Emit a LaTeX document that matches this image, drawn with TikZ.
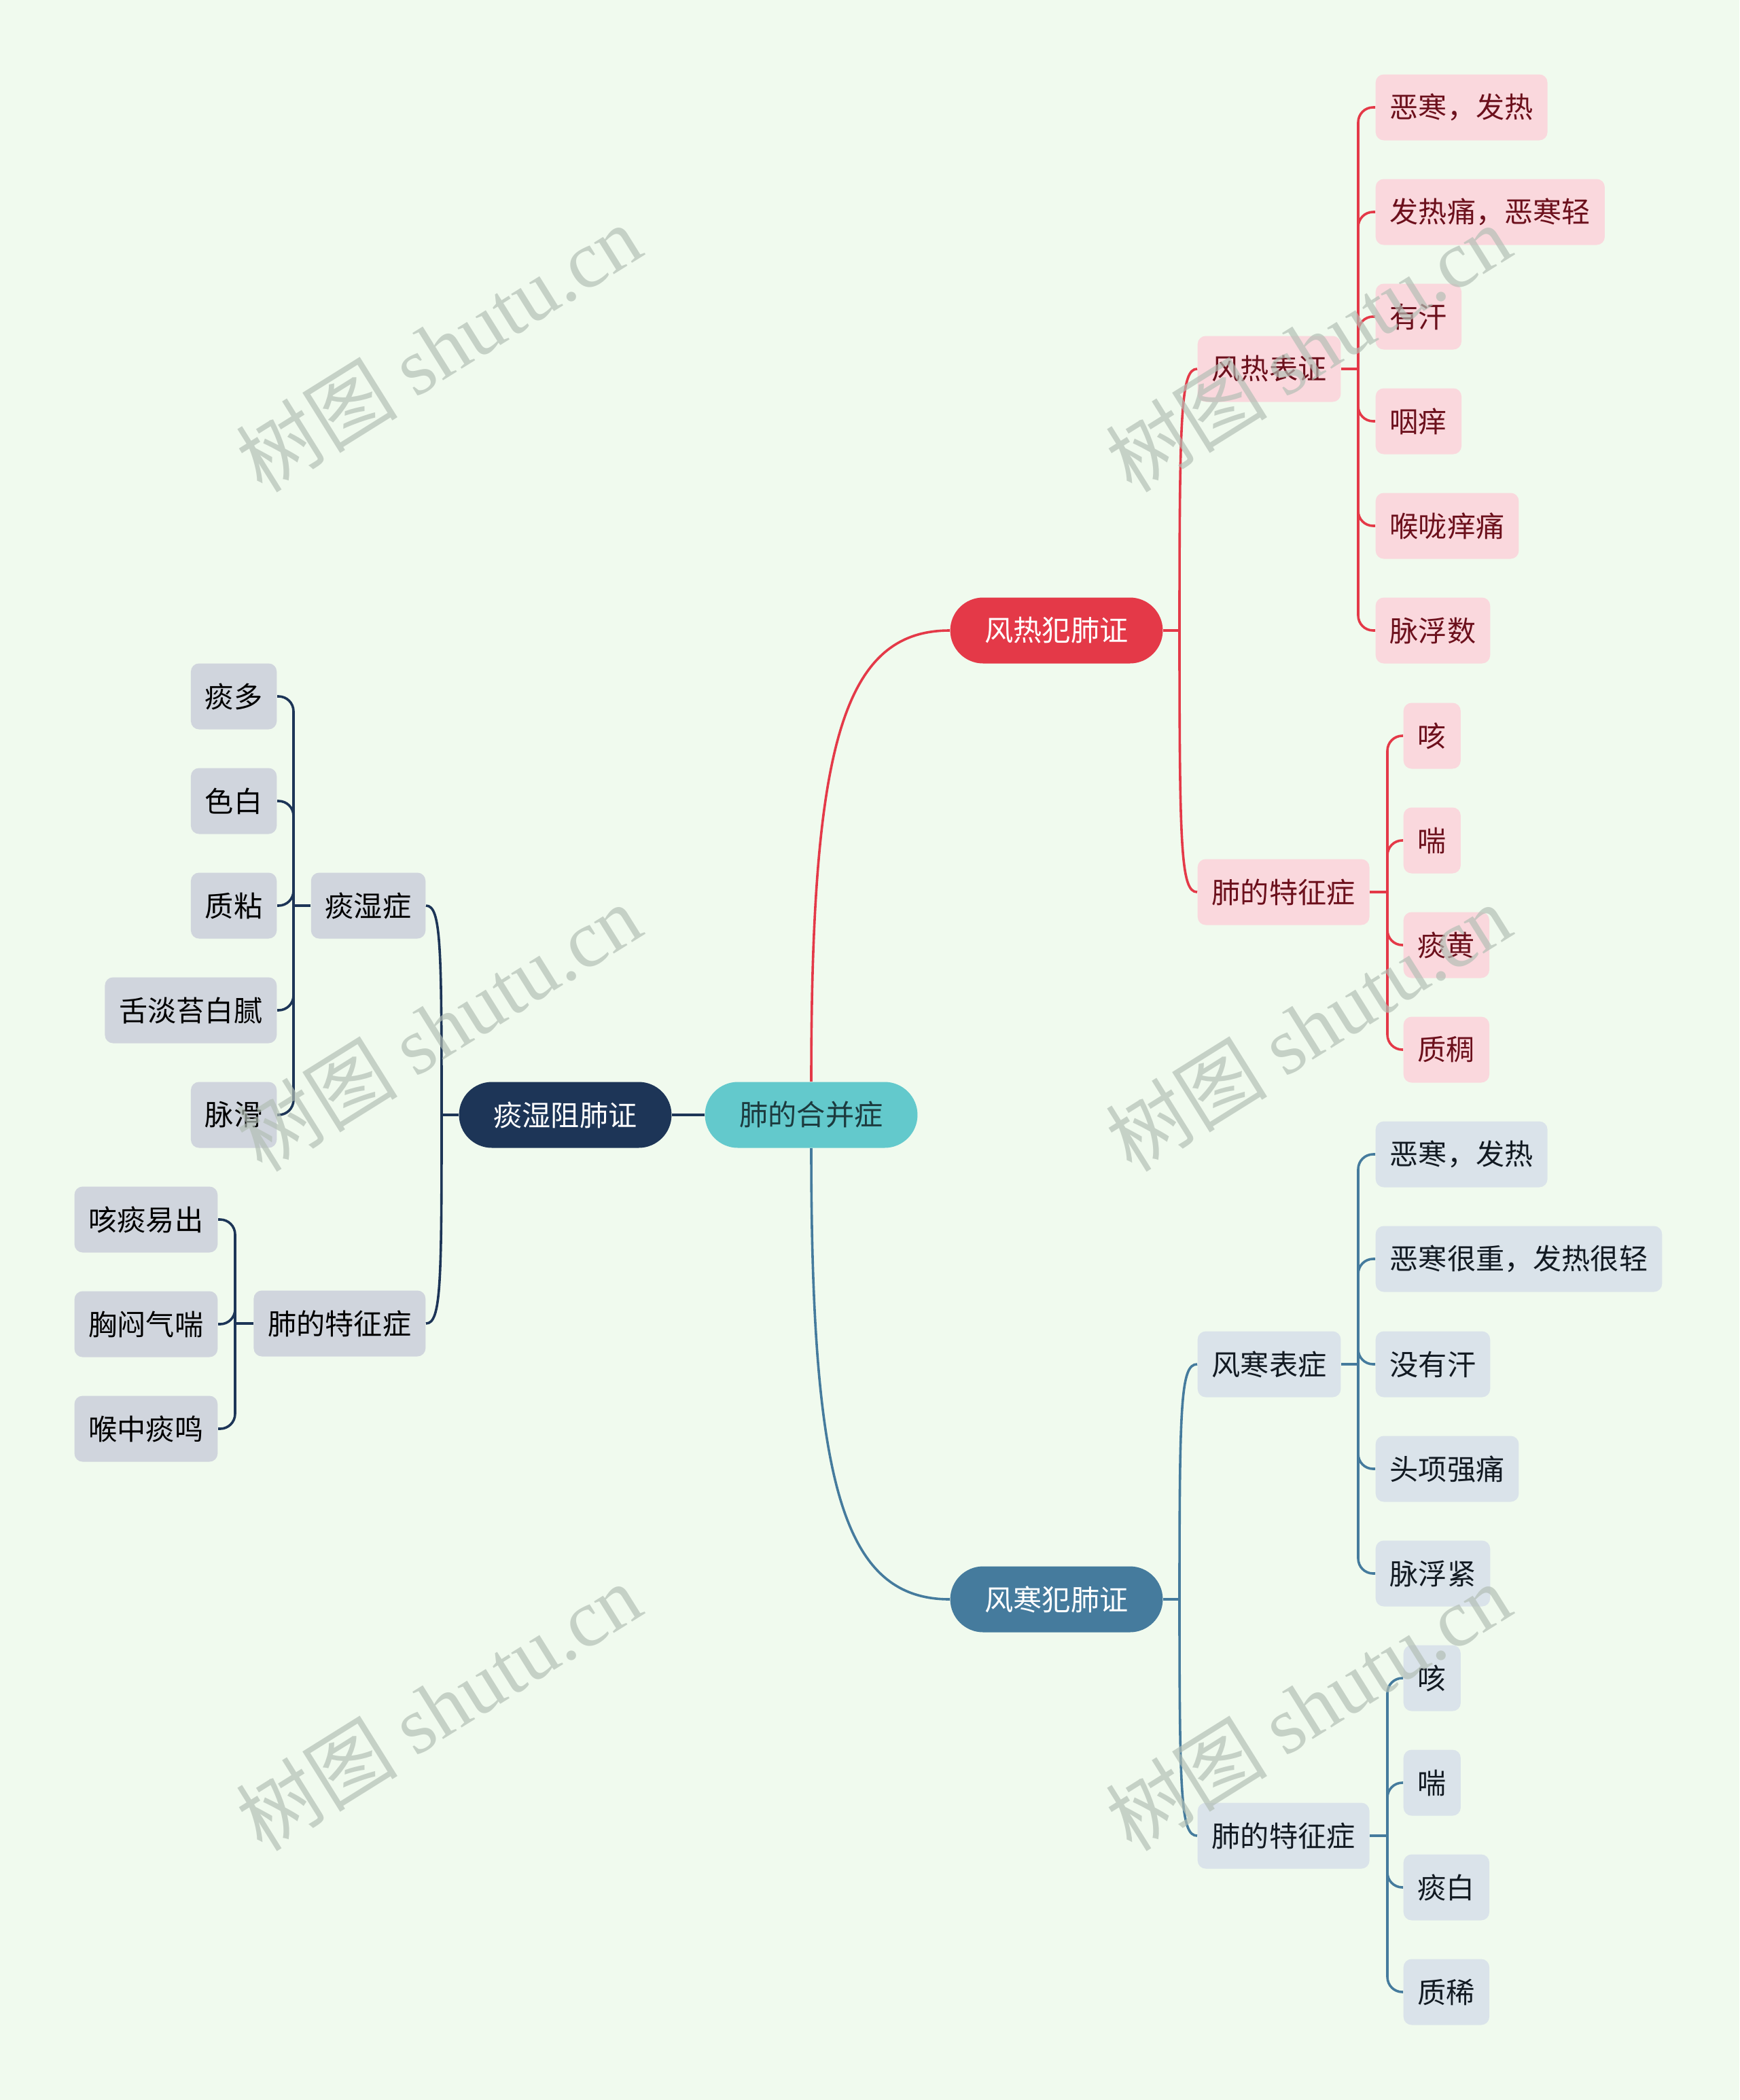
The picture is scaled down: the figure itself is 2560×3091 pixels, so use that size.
\documentclass[tikz,border=0pt]{standalone}
\usepackage{fontspec}
\setmainfont{Noto Sans CJK SC}
\newfontfamily\wmfont{Liberation Serif}
\usepackage{tikz}
\definecolor{bgPale}{RGB}{240,250,238}
\definecolor{rootTeal}{RGB}{99,201,204}
\definecolor{rootText}{RGB}{28,58,62}
\definecolor{heatRed}{RGB}{228,57,72}
\definecolor{heatPink}{RGB}{250,216,221}
\definecolor{heatText}{RGB}{108,16,28}
\definecolor{coldBlue}{RGB}{69,123,157}
\definecolor{coldPale}{RGB}{218,227,234}
\definecolor{coldText}{RGB}{18,26,34}
\definecolor{dampNavy}{RGB}{29,53,87}
\definecolor{dampGrey}{RGB}{208,213,221}
\definecolor{wmGrey}{RGB}{178,190,180}

\begin{document}
\begin{tikzpicture}[x=0.1mm, y=-0.1mm,
    box/.style={font=\fontsize{12}{14}\selectfont, minimum height=9.7mm, inner ysep=0pt},
    mainbox/.style={box, rounded corners=4.85mm, inner xsep=5.1mm},
    subbox/.style={box, rounded corners=1.2mm, inner xsep=2.1mm},
    rootbox/.style={mainbox, fill=rootTeal, text=rootText},
    heatMain/.style={mainbox, fill=heatRed, text=white},
    coldMain/.style={mainbox, fill=coldBlue, text=white},
    dampMain/.style={mainbox, fill=dampNavy, text=white},
    heatBox/.style={subbox, fill=heatPink, text=heatText},
    coldBox/.style={subbox, fill=coldPale, text=coldText},
    dampBox/.style={subbox, fill=dampGrey, text=black},
    heatLine/.style={draw=heatRed, line width=0.36mm},
    coldLine/.style={draw=coldBlue, line width=0.36mm},
    dampLine/.style={draw=dampNavy, line width=0.36mm},
    elbow/.style={rounded corners=2.2mm},
    wmark/.style={text=wmGrey, opacity=0.68, font=\fontsize{34}{38}\selectfont, rotate=32, inner sep=0pt}]

  \fill[bgPale] (0,0) rectangle (2560,3091);

  % root and the three main branches
  \node[rootbox] (root) at (1194,1641) {肺的合并症};
  \node[heatMain] (heat) at (1555,928) {风热犯肺证};
  \node[coldMain] (cold) at (1555,2354) {风寒犯肺证};
  \node[dampMain] (damp) at (832,1641) {痰湿阻肺证};

  \draw[heatLine] (root.north) .. controls (1194,1100) and (1240,928) .. (heat.west);
  \draw[coldLine] (root.south) .. controls (1194,2182) and (1240,2354) .. (cold.west);
  \draw[dampLine] (root.west) -- (damp.east);

  % wind-heat branch
  \node[heatBox, anchor=west] (heatA) at (1762,543) {风热表证};
  \node[heatBox, anchor=west] (heatB) at (1762,1313) {肺的特征症};
  \coordinate (heatJ) at (1736,928);
  \draw[heatLine] (heat.east) -- (heatJ);
  \draw[heatLine] (heatJ) .. controls +(0,-320) and +(-24,0) .. (heatA.west);
  \draw[heatLine] (heatJ) .. controls +(0,320) and +(-24,0) .. (heatB.west);

  \node[heatBox, anchor=west] (ha1) at (2024,158) {恶寒，发热};
  \node[heatBox, anchor=west] (ha2) at (2024,312) {发热痛，恶寒轻};
  \node[heatBox, anchor=west] (ha3) at (2024,466) {有汗};
  \node[heatBox, anchor=west] (ha4) at (2024,620) {咽痒};
  \node[heatBox, anchor=west] (ha5) at (2024,774) {喉咙痒痛};
  \node[heatBox, anchor=west] (ha6) at (2024,928) {脉浮数};
  \coordinate (heatAJ) at (1999,543);
  \draw[heatLine] (heatA.east) -- (heatAJ);
  \draw[heatLine, elbow] (heatAJ) |- (ha1.west);
  \draw[heatLine, elbow] (heatAJ) |- (ha2.west);
  \draw[heatLine, elbow] (heatAJ) |- (ha3.west);
  \draw[heatLine, elbow] (heatAJ) |- (ha4.west);
  \draw[heatLine, elbow] (heatAJ) |- (ha5.west);
  \draw[heatLine, elbow] (heatAJ) |- (ha6.west);

  \node[heatBox, anchor=west] (hb1) at (2065,1083) {咳};
  \node[heatBox, anchor=west] (hb2) at (2065,1237) {喘};
  \node[heatBox, anchor=west] (hb3) at (2065,1391) {痰黄};
  \node[heatBox, anchor=west] (hb4) at (2065,1545) {质稠};
  \coordinate (heatBJ) at (2042,1313);
  \draw[heatLine] (heatB.east) -- (heatBJ);
  \draw[heatLine, elbow] (heatBJ) |- (hb1.west);
  \draw[heatLine, elbow] (heatBJ) |- (hb2.west);
  \draw[heatLine, elbow] (heatBJ) |- (hb3.west);
  \draw[heatLine, elbow] (heatBJ) |- (hb4.west);

  % wind-cold branch
  \node[coldBox, anchor=west] (coldA) at (1762,2008) {风寒表症};
  \node[coldBox, anchor=west] (coldB) at (1762,2702) {肺的特征症};
  \coordinate (coldJ) at (1736,2354);
  \draw[coldLine] (cold.east) -- (coldJ);
  \draw[coldLine] (coldJ) .. controls +(0,-290) and +(-24,0) .. (coldA.west);
  \draw[coldLine] (coldJ) .. controls +(0,290) and +(-24,0) .. (coldB.west);

  \node[coldBox, anchor=west] (ca1) at (2024,1699) {恶寒，发热};
  \node[coldBox, anchor=west] (ca2) at (2024,1853) {恶寒很重，发热很轻};
  \node[coldBox, anchor=west] (ca3) at (2024,2008) {没有汗};
  \node[coldBox, anchor=west] (ca4) at (2024,2162) {头项强痛};
  \node[coldBox, anchor=west] (ca5) at (2024,2316) {脉浮紧};
  \coordinate (coldAJ) at (1999,2008);
  \draw[coldLine] (coldA.east) -- (coldAJ);
  \draw[coldLine, elbow] (coldAJ) |- (ca1.west);
  \draw[coldLine, elbow] (coldAJ) |- (ca2.west);
  \draw[coldLine, elbow] (coldAJ) |- (ca3.west);
  \draw[coldLine, elbow] (coldAJ) |- (ca4.west);
  \draw[coldLine, elbow] (coldAJ) |- (ca5.west);

  \node[coldBox, anchor=west] (cb1) at (2065,2470) {咳};
  \node[coldBox, anchor=west] (cb2) at (2065,2624) {喘};
  \node[coldBox, anchor=west] (cb3) at (2065,2778) {痰白};
  \node[coldBox, anchor=west] (cb4) at (2065,2932) {质稀};
  \coordinate (coldBJ) at (2042,2702);
  \draw[coldLine] (coldB.east) -- (coldBJ);
  \draw[coldLine, elbow] (coldBJ) |- (cb1.west);
  \draw[coldLine, elbow] (coldBJ) |- (cb2.west);
  \draw[coldLine, elbow] (coldBJ) |- (cb3.west);
  \draw[coldLine, elbow] (coldBJ) |- (cb4.west);

  % phlegm-damp branch
  \node[dampBox, anchor=east] (dampA) at (627,1333) {痰湿症};
  \node[dampBox, anchor=east] (dampB) at (627,1948) {肺的特征症};
  \coordinate (dampJ) at (650,1641);
  \draw[dampLine] (damp.west) -- (dampJ);
  \draw[dampLine] (dampJ) .. controls +(0,-250) and +(22,0) .. (dampA.east);
  \draw[dampLine] (dampJ) .. controls +(0,250) and +(22,0) .. (dampB.east);

  \node[dampBox, anchor=east] (da1) at (408,1025) {痰多};
  \node[dampBox, anchor=east] (da2) at (408,1179) {色白};
  \node[dampBox, anchor=east] (da3) at (408,1333) {质粘};
  \node[dampBox, anchor=east] (da4) at (408,1487) {舌淡苔白腻};
  \node[dampBox, anchor=east] (da5) at (408,1641) {脉滑};
  \coordinate (dampAJ) at (432,1333);
  \draw[dampLine] (dampA.west) -- (dampAJ);
  \draw[dampLine, elbow] (dampAJ) |- (da1.east);
  \draw[dampLine, elbow] (dampAJ) |- (da2.east);
  \draw[dampLine, elbow] (dampAJ) |- (da3.east);
  \draw[dampLine, elbow] (dampAJ) |- (da4.east);
  \draw[dampLine, elbow] (dampAJ) |- (da5.east);

  \node[dampBox, anchor=east] (db1) at (321,1795) {咳痰易出};
  \node[dampBox, anchor=east] (db2) at (321,1949) {胸闷气喘};
  \node[dampBox, anchor=east] (db3) at (321,2103) {喉中痰鸣};
  \coordinate (dampBJ) at (346,1948);
  \draw[dampLine] (dampB.west) -- (dampBJ);
  \draw[dampLine, elbow] (dampBJ) |- (db1.east);
  \draw[dampLine, elbow] (dampBJ) |- (db2.east);
  \draw[dampLine, elbow] (dampBJ) |- (db3.east);

  % watermarks
  \node[wmark] (wm1) at (645,512) {树图 {\wmfont shutu.cn}};
  \node[wmark] (wm2) at (1925,512) {树图 {\wmfont shutu.cn}};
  \node[wmark] (wm3) at (645,1512) {树图 {\wmfont shutu.cn}};
  \node[wmark] (wm4) at (1925,1512) {树图 {\wmfont shutu.cn}};
  \node[wmark] (wm5) at (645,2512) {树图 {\wmfont shutu.cn}};
  \node[wmark] (wm6) at (1925,2512) {树图 {\wmfont shutu.cn}};
\end{tikzpicture}
\end{document}
